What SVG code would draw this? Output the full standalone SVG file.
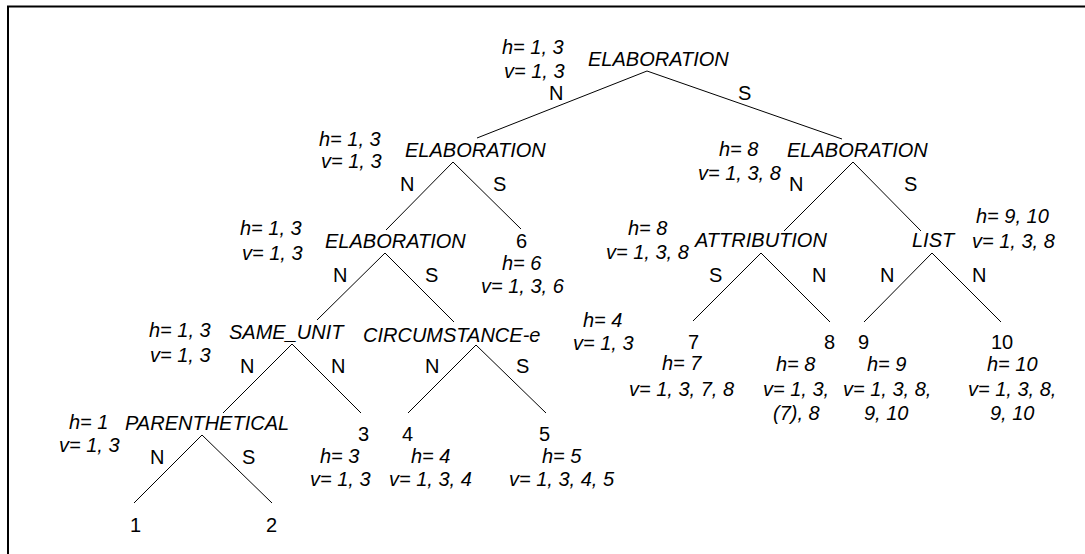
<svg xmlns="http://www.w3.org/2000/svg" width="1085" height="554" viewBox="0 0 1085 554">
<style>
text{font-family:"Liberation Sans",Arial,sans-serif;font-size:20px;fill:#000}
.i{font-style:italic}
.e line{stroke:#000;stroke-width:1}
</style>
<rect x="0" y="0" width="1085" height="554" fill="#fff"/>
<rect x="8" y="6.5" width="1300" height="700" fill="none" stroke="#000" stroke-width="2"/>
<g id="connectors" class="e">
<line x1="647" y1="71" x2="477" y2="138"/>
<line x1="647" y1="71" x2="842" y2="139"/>
<line x1="453" y1="162" x2="386" y2="230"/>
<line x1="453" y1="162" x2="521" y2="229"/>
<line x1="853" y1="162" x2="784" y2="231"/>
<line x1="853" y1="162" x2="921" y2="231"/>
<line x1="385" y1="253" x2="317" y2="320"/>
<line x1="385" y1="253" x2="454" y2="322"/>
<line x1="761" y1="253" x2="693" y2="321"/>
<line x1="761" y1="253" x2="830" y2="322"/>
<line x1="932" y1="253" x2="864" y2="322"/>
<line x1="932" y1="253" x2="1001" y2="322"/>
<line x1="292" y1="344" x2="223" y2="413"/>
<line x1="292" y1="344" x2="361" y2="413"/>
<line x1="476" y1="345" x2="408" y2="413"/>
<line x1="476" y1="345" x2="546" y2="413"/>
<line x1="202" y1="435" x2="134" y2="503"/>
<line x1="202" y1="435" x2="272" y2="503"/>
<text x="549" y="100">N</text><text x="738" y="100">S</text>
<text x="400" y="191">N</text><text x="493" y="191">S</text>
<text x="789" y="191">N</text><text x="904" y="191">S</text>
<text x="333" y="282">N</text><text x="425" y="282">S</text>
<text x="709" y="282">S</text><text x="812" y="282">N</text>
<text x="880" y="282">N</text><text x="972" y="282">N</text>
<text x="240" y="373">N</text><text x="331" y="373">N</text>
<text x="425" y="373">N</text><text x="516" y="373">S</text>
<text x="150" y="464">N</text><text x="242" y="464">S</text>
</g>
<g id="root">
<text class="i" x="502" y="54">h= 1, 3</text>
<text class="i" x="504" y="77.5">v= 1, 3</text>
<text class="i" x="588" y="66">ELABORATION</text>
</g>
<g id="elab-left">
<text class="i" x="319" y="145.5">h= 1, 3</text>
<text class="i" x="321" y="168">v= 1, 3</text>
<text class="i" x="405" y="157">ELABORATION</text>
</g>
<g id="elab-right">
<text class="i" x="719" y="156">h= 8</text>
<text class="i" x="698" y="180">v= 1, 3, 8</text>
<text class="i" x="787" y="157">ELABORATION</text>
</g>
<g id="leaf6">
<text x="516" y="248">6</text>
<text class="i" x="502" y="270">h= 6</text>
<text class="i" x="481" y="293">v= 1, 3, 6</text>
</g>
<g id="elab-3">
<text class="i" x="240" y="235">h= 1, 3</text>
<text class="i" x="242" y="260">v= 1, 3</text>
<text class="i" x="325" y="248">ELABORATION</text>
</g>
<g id="attribution">
<text class="i" x="628" y="235">h= 8</text>
<text class="i" x="606" y="259">v= 1, 3, 8</text>
<text class="i" x="695" y="247">ATTRIBUTION</text>
</g>
<g id="list">
<text class="i" x="912" y="247">LIST</text>
<text class="i" x="976" y="223">h= 9, 10</text>
<text class="i" x="972" y="248">v= 1, 3, 8</text>
</g>
<g id="same-unit">
<text class="i" x="149" y="337">h= 1, 3</text>
<text class="i" x="150" y="362">v= 1, 3</text>
<text class="i" x="229" y="339">SAME_UNIT</text>
</g>
<g id="circumstance">
<text class="i" x="363" y="342">CIRCUMSTANCE-e</text>
<text class="i" x="583" y="327">h= 4</text>
<text class="i" x="573" y="350">v= 1, 3</text>
</g>
<g id="parenthetical">
<text class="i" x="69" y="429">h= 1</text>
<text class="i" x="59" y="452">v= 1, 3</text>
<text class="i" x="125" y="430">PARENTHETICAL</text>
</g>
<g id="leaf1"><text x="130" y="532">1</text></g>
<g id="leaf2"><text x="266" y="532">2</text></g>
<g id="leaf3">
<text x="358" y="441">3</text>
<text class="i" x="320" y="463">h= 3</text>
<text class="i" x="310" y="486">v= 1, 3</text>
</g>
<g id="leaf4">
<text x="402" y="441">4</text>
<text class="i" x="411" y="463">h= 4</text>
<text class="i" x="389" y="486">v= 1, 3, 4</text>
</g>
<g id="leaf5">
<text x="539" y="441">5</text>
<text class="i" x="542" y="463">h= 5</text>
<text class="i" x="509" y="486">v= 1, 3, 4, 5</text>
</g>
<g id="leaf7">
<text x="688" y="349">7</text>
<text class="i" x="662" y="370">h= 7</text>
<text class="i" x="629" y="396">v= 1, 3, 7, 8</text>
</g>
<g id="leaf8">
<text x="824" y="349">8</text>
<text class="i" x="776" y="371">h= 8</text>
<text class="i" x="763" y="396">v= 1, 3,</text>
<text class="i" x="773" y="420">(7), 8</text>
</g>
<g id="leaf9">
<text x="858" y="349">9</text>
<text class="i" x="867" y="371">h= 9</text>
<text class="i" x="843" y="396">v= 1, 3, 8,</text>
<text class="i" x="864" y="420">9, 10</text>
</g>
<g id="leaf10">
<text x="991" y="349">10</text>
<text class="i" x="987" y="371">h= 10</text>
<text class="i" x="968" y="396">v= 1, 3, 8,</text>
<text class="i" x="990" y="420">9, 10</text>
</g>
</svg>
